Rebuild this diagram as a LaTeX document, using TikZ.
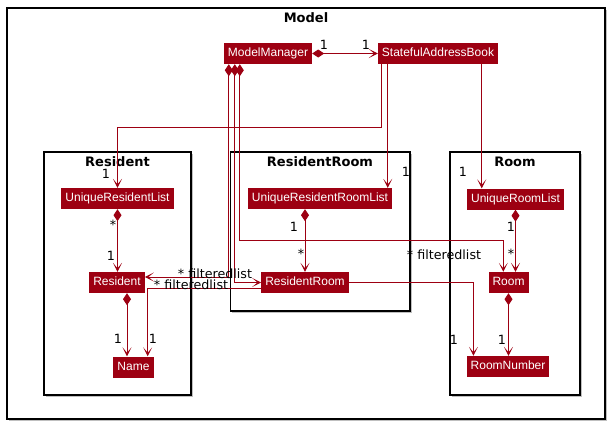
\documentclass[tikz,border=0pt]{standalone}
\usepackage{fontspec}
\usetikzlibrary{arrows.meta}
\newfontfamily\clsfont{Liberation Sans}
\newfontfamily\lblfont{DejaVu Sans}
\definecolor{mc}{HTML}{9D0012}
\tikzset{
  cls/.style={fill=mc, text=white, font=\clsfont\fontsize{12}{12}\selectfont, inner xsep=4pt, inner ysep=0pt, minimum height=21pt, text height=8.8pt, text depth=2.4pt},
  lbl/.style={font=\lblfont\fontsize{12.7}{12.7}\selectfont, inner sep=0pt, text height=9pt, text depth=0pt, text=black},
  pkg/.style={draw=black, line width=1.3pt, inner sep=0pt},
  pkgtitle/.style={font=\lblfont\bfseries\fontsize{13}{13}\selectfont, inner sep=0pt, text=black},
  shadowbox/.style={fill=black!25, draw=none, inner sep=0pt},
  conn/.style={draw=mc, line width=0.9pt},
  arr/.style={conn, -{Stealth[length=9pt, width=9pt, inset=5.5pt]}},
  comp/.style={conn, {Diamond[length=12pt, width=8pt]}-{Stealth[length=9pt, width=9pt, inset=5.5pt]}},
}
\begin{document}
\begin{tikzpicture}[x={(1pt,0)}, y={(0,-1pt)}]
\useasboundingbox (0,0) rectangle (609,424);
% outer frame
\node[shadowbox, minimum width=598pt, minimum height=411pt] (outsh) at (307.5,215) {};
\node[pkg, fill=white, minimum width=598pt, minimum height=411pt] (outer) at (306,213.5) {};
\node[pkgtitle] (tmodel) at (306,18) {Model};
% packages
\node[shadowbox, minimum width=147pt, minimum height=243pt] (pkressh) at (119,275) {};
\node[pkg, fill=white, minimum width=147pt, minimum height=243pt] (pkres) at (117.5,273.5) {};
\node[pkgtitle] (tres) at (117.5,162) {Resident};
\node[shadowbox, minimum width=179.5pt, minimum height=159pt] (pkrrsh) at (321.75,233) {};
\node[pkg, fill=white, minimum width=179.5pt, minimum height=159pt] (pkrr) at (320.25,231.5) {};
\node[pkgtitle] (trr) at (320,162) {ResidentRoom};
\node[shadowbox, minimum width=130pt, minimum height=243pt] (pkroomsh) at (516.5,275) {};
\node[pkg, fill=white, minimum width=130pt, minimum height=243pt] (pkroom) at (515,273.5) {};
\node[pkgtitle] (troom) at (515,162) {Room};
% classes
\node[cls] (mm) at (268,53.5) {ModelManager};
\node[cls] (sab) at (438,53.5) {StatefulAddressBook};
\node[cls] (url) at (117.5,198.5) {UniqueResidentList};
\node[cls] (res) at (117,282.5) {Resident};
\node[cls] (name) at (133.5,367) {Name};
\node[cls] (urrl) at (320,198.5) {UniqueResidentRoomList};
\node[cls] (rr) at (305,282.5) {ResidentRoom};
\node[cls] (urml) at (515.5,199) {UniqueRoomList};
\node[cls] (room) at (508.5,282.5) {Room};
\node[cls] (rn) at (508,366.5) {RoomNumber};
% helper coordinates
\coordinate (s2) at ([xshift=4pt]sab.south west);
\coordinate (s3) at ([xshift=10pt]sab.south west);
\coordinate (s4) at ([xshift=104pt]sab.south west);
\coordinate (k2) at (0,127);
\coordinate (r6) at ([xshift=10pt]res.south);
\coordinate (r7) at ([yshift=-5.5pt]rr.west);
\coordinate (n7) at ([xshift=-6pt]name.north east);
\coordinate (u8) at (rr.north |- urrl.south);
\coordinate (n11) at ([xshift=7pt]rn.north west);
\coordinate (m1) at ([xshift=5pt]mm.south west);
\coordinate (m2) at ([xshift=11pt]mm.south west);
\coordinate (m3) at ([xshift=16pt]mm.south west);
\coordinate (e12) at ([yshift=5.5pt]res.east);
\coordinate (k14) at (0,240);
\coordinate (t14) at ([xshift=15pt]room.north west);
% connectors
\draw[comp] (mm.east) -- (sab.west);
\draw[arr] (s2) -- (s2 |- k2) -| (url.north);
\draw[arr] (s3) -- (s3 |- urrl.north);
\draw[arr] (s4) -- (s4 |- urml.north);
\draw[comp] (url.south) -- (url.south |- res.north);
\draw[comp] (r6) -- (r6 |- name.north);
\draw[arr] (r7) -| (n7);
\draw[comp] (u8) -- (rr.north);
\draw[comp] (urml.south) -- (urml.south |- room.north);
\draw[comp] (room.south) -- (room.south |- rn.north);
\draw[arr] (rr.east) -| (n11);
\draw[comp] (m1) |- (e12);
\draw[comp] (m2) |- (rr.west);
\draw[comp] (m3) -- (m3 |- k14) -| (t14);
% labels
\node[lbl] (l1) at (324,45) {1};
\node[lbl] (l2) at (366,45) {1};
\node[lbl] (l3) at (106,174) {1};
\node[lbl] (l4) at (406,172) {1};
\node[lbl] (l5) at (463,172) {1};
\node[lbl] (l6) at (113,225) {*};
\node[lbl] (l7) at (111,256) {1};
\node[lbl] (l8) at (118,339) {1};
\node[lbl] (l9) at (153,339) {1};
\node[lbl] (l10) at (294,227) {1};
\node[lbl] (l11) at (301,254) {*};
\node[lbl] (l12) at (511,227) {1};
\node[lbl] (l13) at (511,254) {*};
\node[lbl] (l14) at (502,340) {1};
\node[lbl] (l15) at (454,340) {1};
\node[lbl] (l16) at (215,274) {* filteredlist};
\node[lbl] (l17) at (191,285) {* filteredlist};
\node[lbl] (l18) at (444,255) {* filteredlist};
\end{tikzpicture}
\end{document}
